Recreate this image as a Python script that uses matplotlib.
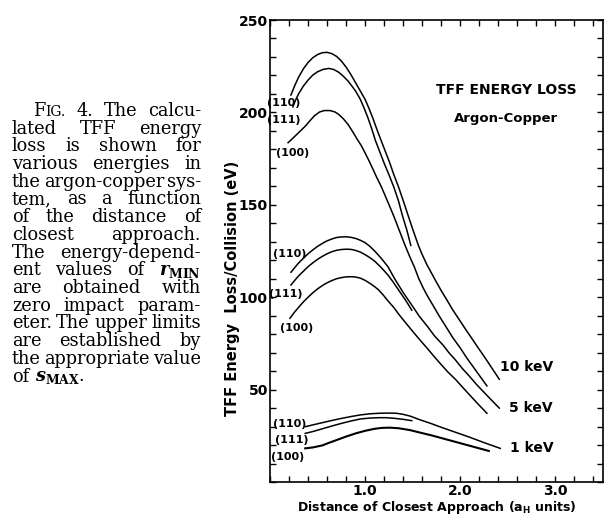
"""TFF energy loss for argon-copper, redrawn with its caption"""

import matplotlib
matplotlib.use("Agg")
import matplotlib.pyplot as plt
from matplotlib.ticker import MultipleLocator, FixedLocator

# 10 keV curves
x_10_110 = [0.22, 0.26, 0.30, 0.35, 0.40, 0.45, 0.50, 0.55, 0.60, 0.65, 0.70,
            0.75, 0.80, 0.85, 0.90, 0.95, 1.00, 1.04, 1.08, 1.12, 1.17, 1.21,
            1.26, 1.30, 1.35, 1.40, 1.45, 1.50, 1.56, 1.60, 1.65, 1.70, 1.74,
            1.80, 1.85, 1.92, 2.00, 2.06, 2.12, 2.18, 2.25, 2.33, 2.41]
y_10_110 = [209.4, 214.5, 219, 223.5, 227, 229.6, 231.3, 232.3, 232.5, 231.8,
            230.3, 227.8, 224.5, 220.5, 216, 211.5, 207, 202.2, 197, 191.3,
            184.5, 179.2, 172.5, 166.5, 159.8, 152.3, 144.5, 136.8, 128, 123,
            117.5, 112.8, 109, 103.5, 99.3, 93.2, 87, 82.3, 77.8, 73.2, 68,
            61.8, 55.6]
x_10_111 = [0.24, 0.27, 0.30, 0.35, 0.40, 0.45, 0.50, 0.56, 0.62, 0.67, 0.72,
            0.77, 0.82, 0.86, 0.90, 0.95, 0.99, 1.03, 1.07, 1.11, 1.15, 1.20,
            1.25, 1.30, 1.35, 1.39, 1.44, 1.48]
y_10_111 = [203, 206.8, 210, 214.2, 217.5, 220.2, 222, 223.3, 223.8, 223.2,
            221.8, 219.6, 217, 214.3, 211.5, 207, 202.2, 197, 191, 184.5, 179.2,
            172.5, 166.3, 159.8, 152.2, 144.5, 136, 128]
x_10_100 = [0.19, 0.25, 0.31, 0.37, 0.42, 0.47, 0.52, 0.57, 0.63, 0.68, 0.72,
            0.77, 0.82, 0.87, 0.91, 0.96, 1.00, 1.04, 1.08, 1.12, 1.17, 1.23,
            1.30, 1.36, 1.42, 1.47, 1.52, 1.56, 1.61, 1.66, 1.72, 1.78, 1.85,
            1.92, 2.00, 2.07, 2.14, 2.21, 2.28]
y_10_100 = [183.6, 186.5, 189.5, 192.5, 195.5, 198.3, 200.2, 201, 201, 200.3,
            199, 196.6, 193.5, 189.5, 186, 182, 178, 173.9, 169.5, 165, 159.8,
            152.6, 144, 136, 128, 121.8, 116, 110.5, 105, 100.2, 95, 89.7, 84,
            78.2, 72.5, 67, 62, 57, 52]

# 5 keV curves
x_5_110 = [0.22, 0.26, 0.30, 0.35, 0.40, 0.45, 0.50, 0.55, 0.60, 0.65, 0.70,
           0.75, 0.80, 0.85, 0.90, 0.95, 1.00, 1.05, 1.10, 1.17, 1.24, 1.31,
           1.40, 1.50, 1.57, 1.65, 1.73, 1.82, 1.88, 1.95, 2.02, 2.10, 2.17,
           2.25, 2.33, 2.41]
y_5_110 = [113.5, 116, 118.5, 121, 123.5, 125.6, 127.5, 129.1, 130.5, 131.5,
           132.3, 132.6, 132.7, 132.4, 131.8, 130.8, 129.5, 127.5, 125, 121,
           116.5, 110, 102.5, 95, 89.6, 84.5, 79, 74, 70, 66, 61.5, 57, 52.8,
           48.5, 44.2, 40]
x_5_111 = [0.22, 0.26, 0.30, 0.35, 0.40, 0.45, 0.50, 0.55, 0.60, 0.65, 0.70,
           0.75, 0.81, 0.86, 0.90, 0.95, 1.00, 1.05, 1.10, 1.17, 1.24, 1.30,
           1.37, 1.43, 1.49]
y_5_111 = [106.6, 109.1, 111.5, 114, 116.5, 118.6, 120.5, 122.1, 123.5, 124.6,
           125.4, 125.8, 126, 125.8, 125.3, 124.4, 123, 121.4, 119.5, 116, 112,
           107.8, 102.5, 98, 93]
x_5_100 = [0.21, 0.25, 0.30, 0.35, 0.40, 0.45, 0.50, 0.55, 0.60, 0.65, 0.70,
           0.75, 0.80, 0.86, 0.90, 0.95, 1.00, 1.05, 1.10, 1.14, 1.19, 1.24,
           1.30, 1.35, 1.42, 1.50, 1.57, 1.65, 1.72, 1.80, 1.87, 1.95, 2.02,
           2.10, 2.19, 2.28]
y_5_100 = [88.6, 91.4, 94.5, 97.4, 100, 102.4, 104.5, 106.3, 107.8, 109, 110,
           110.6, 111, 111.1, 110.9, 110.3, 109.1, 107.5, 105.7, 104, 101.2, 98,
           94.5, 91, 86.5, 81.5, 77.2, 72.5, 68.2, 63.5, 59.5, 55.5, 51.5, 47,
           42, 37.2]

# 1 keV curves
x_1_110 = [0.37, 0.45, 0.55, 0.65, 0.75, 0.85, 0.95, 1.05, 1.15, 1.25, 1.33,
           1.40, 1.47, 1.58, 1.70, 1.80, 1.90, 2.00, 2.10, 2.25, 2.42]
y_1_110 = [29.9, 30.9, 32.1, 33.3, 34.4, 35.4, 36.3, 36.9, 37.2, 37.3, 37.2,
           36.6, 35.7, 33.6, 31.5, 29.6, 27.8, 26, 24.2, 21.3, 18.2]
x_1_111 = [0.37, 0.45, 0.55, 0.65, 0.75, 0.85, 0.95, 1.05, 1.15, 1.22, 1.30,
           1.40, 1.49]
y_1_111 = [26.3, 27.3, 28.8, 30.3, 31.7, 33, 34.1, 34.6, 34.8, 34.8, 34.5,
           33.9, 33.2]
x_1_100 = [0.37, 0.45, 0.55, 0.62, 0.70, 0.80, 0.90, 1.00, 1.10, 1.18, 1.26,
           1.35, 1.47, 1.58, 1.70, 1.80, 1.90, 2.00, 2.10, 2.20, 2.30]
y_1_100 = [18.2, 18.7, 19.8, 21.2, 22.7, 24.6, 26.3, 27.7, 28.8, 29.3, 29.4,
           29.1, 28.1, 26.7, 25.2, 23.8, 22.4, 21, 19.6, 18.2, 16.8]

# crystal direction labels: text, x, y (data units)
face_labels = [
    ("(110)", 0.14, 205.2), ("(111)", 0.14, 195.8), ("(100)", 0.24, 177.9),
    ("(110)", 0.21, 123.4), ("(111)", 0.17, 101.7), ("(100)", 0.28, 83.5),
    ("(110)", 0.21, 31.4), ("(111)", 0.23, 22.7), ("(100)", 0.18, 13.7),
]
energy_labels = [("10 keV", 2.42, 62.4), ("5 keV", 2.51, 40.0), ("1 keV", 2.52, 18.4)]

x_ticks = [1.0, 2.0, 3.0]
x_tick_labels = ["1.0", "2.0", "3.0"]
y_ticks = [50, 100, 150, 200, 250]

caption_lines = [
    "FIG. 4. The calcu-",
    "lated TFF energy",
    "loss is shown for",
    "various energies in",
    "the argon-copper sys-",
    "tem, as a function",
    "of the distance of",
    "closest approach.",
    "The energy-depend-",
    r"ent values of $r_{\mathrm{MIN}}$",
    "are obtained with",
    "zero impact param-",
    "eter. The upper limits",
    "are established by",
    "the appropriate value",
    r"of $s_{\mathrm{MAX}}$.",
]


def caption(fig):
    """Write the justified caption on the left"""
    r = fig.canvas.get_renderer()
    W = fig.get_figwidth() * fig.dpi
    H = fig.get_figheight() * fig.dpi
    fs = 12.8
    left, indent, right = 12, 33, 201
    for i, line in enumerate(caption_lines):
        y = 1 - (116 + i * 17.7) / H
        x0 = indent if i == 0 else left
        groups = []
        for w in line.split(" "):
            parts = [("F", 1.0), ("IG.", 0.78)] if w == "FIG." else [(w, 1.0)]
            groups.append([fig.text(0, y, s, fontsize=fs * k, family="DejaVu Serif",
                                    fontweight="normal", va="baseline")
                           for s, k in parts])
        widths = [[t.get_window_extent(r).width for t in g] for g in groups]
        total = sum(sum(w) for w in widths)
        if i == len(caption_lines) - 1:
            gap = 0.32 * fs * fig.dpi / 72
        else:
            gap = max((right - x0 - total) / (len(groups) - 1), 2)
        x = x0
        for g, ws in zip(groups, widths):
            for t, w in zip(g, ws):
                t.set_x(x / W)
                x += w
            x += gap


def main():
    plt.rcParams["font.family"] = "DejaVu Sans"
    plt.rcParams["font.weight"] = "bold"
    plt.rcParams["mathtext.fontset"] = "dejavuserif"

    fig = plt.figure(figsize=(6.07, 5.15), dpi=100)
    ax = fig.add_axes([270 / 607, 1 - 482 / 515, 333 / 607, 462 / 515])

    curves = [(x_10_110, y_10_110), (x_10_111, y_10_111), (x_10_100, y_10_100),
              (x_5_110, y_5_110), (x_5_111, y_5_111), (x_5_100, y_5_100),
              (x_1_110, y_1_110), (x_1_111, y_1_111)]
    for xs, ys in curves:
        ax.plot(xs, ys, color="black", lw=1.1)
    ax.plot(x_1_100, y_1_100, color="black", lw=1.5)

    for s, x, y in face_labels:
        ax.text(x, y, s, fontsize=8, ha="center", va="center", clip_on=False)
    for s, x, y in energy_labels:
        ax.text(x, y, s, fontsize=10, ha="left", va="center")
    ax.text(2.486, 212.1, "TFF ENERGY LOSS", fontsize=10, ha="center", va="center")
    ax.text(2.477, 196.8, "Argon-Copper", fontsize=9.5, ha="center", va="center")

    ax.set_xlim(0, 3.5)
    ax.set_ylim(0, 250)
    ax.xaxis.set_major_locator(FixedLocator(x_ticks))
    ax.set_xticklabels(x_tick_labels)
    ax.xaxis.set_minor_locator(MultipleLocator(0.2))
    ax.yaxis.set_major_locator(FixedLocator(y_ticks))
    ax.yaxis.set_minor_locator(MultipleLocator(10))
    ax.tick_params(which="both", direction="in", top=True, right=True,
                   length=4.5, width=1, labelsize=10)
    ax.tick_params(axis="y", pad=1.5)
    ax.tick_params(axis="x", pad=1.5)
    for sp in ax.spines.values():
        sp.set_linewidth(1.2)

    ax.set_xlabel(r"Distance of Closest Approach ($\mathregular{a_H}$ units)",
                  fontsize=9, fontweight="bold", va="baseline")
    ax.xaxis.set_label_coords(0.5, -0.0625)
    ax.set_ylabel("TFF Energy  Loss/Collision (eV)", fontsize=10.5,
                  fontweight="bold", va="center")
    ax.yaxis.set_label_coords(-0.114, 0.42)

    caption(fig)
    fig.savefig("out.png", dpi=100)


if __name__ == '__main__':
    main()
